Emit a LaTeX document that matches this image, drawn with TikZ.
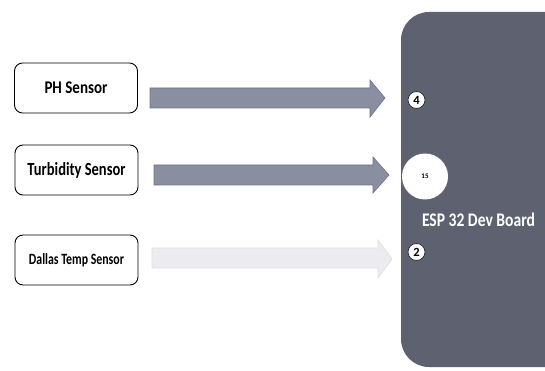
\documentclass[tikz,border=0pt]{standalone}
\usepackage{fontspec}
\usepackage{graphicx}
\setmainfont{Carlito}
\newcommand{\fitto}[3]{\resizebox{#1}{#2}{\bfseries #3}}
\begin{document}
\begin{tikzpicture}[x=1pt,y=-1pt,
  sensor/.style={draw=black, line width=0.9pt, rounded corners=8pt, fill=white, minimum width=123pt, minimum height=50pt, inner sep=0pt},
  pin/.style={circle, fill=white, draw=black!85, line width=0.7pt, inner sep=0pt, minimum size=17pt, font=\bfseries\fontsize{12.5}{12.5}\selectfont},
  darkarrow/.style={fill=arrowfill, draw=arrowline, line width=0.6pt},
  lightarrow/.style={fill=lightfill, draw=lightline, line width=0.6pt}]
\definecolor{board}{HTML}{5E6270}
\definecolor{arrowfill}{HTML}{8A8EA1}
\definecolor{arrowline}{HTML}{70748A}
\definecolor{lightfill}{HTML}{ECECF0}
\definecolor{lightline}{HTML}{DDDDE3}
\useasboundingbox (0,0) rectangle (545,371);
\fill[white] (0,0) rectangle (545,371);
\begin{scope}
\clip (0,0) rectangle (545,371);
\fill[board, rounded corners=28pt] (401,12) rectangle (580,367);
\end{scope}
% sensors
\node[sensor] (ph) at (76,88) {\fitto{63pt}{11.7pt}{PH Sensor}};
\node[sensor] (turb) at (76.5,170) {\fitto{98pt}{13pt}{Turbidity Sensor}};
\node[sensor] (dallas) at (76.5,260) {\fitto{95pt}{11pt}{Dallas Temp Sensor}};
% pins
\node[pin] (p4) at (416.5,100) {4};
\node[circle, fill=white, inner sep=0pt, minimum size=46pt, font=\bfseries\fontsize{7}{7}\selectfont] (p15) at (425,176.5) {15};
\node[pin] (p2) at (416.5,252) {2};
\node[text=white, inner sep=0pt, anchor=base] (esp) at (478.5,226.7) {\fitto{113pt}{13.5pt}{ESP 32 Dev Board}};
% arrows
\draw[darkarrow] (150,88) -- (370,88) -- (370,80) -- (385,98) -- (370,117) -- (370,108) -- (150,108) -- cycle;
\draw[darkarrow] (154,165) -- (373,165) -- (373,157) -- (389,175) -- (373,193) -- (373,185) -- (154,185) -- cycle;
\draw[lightarrow] (152,248) -- (378,248) -- (378,240) -- (392,259) -- (378,278) -- (378,268) -- (152,268) -- cycle;
\end{tikzpicture}
\end{document}
